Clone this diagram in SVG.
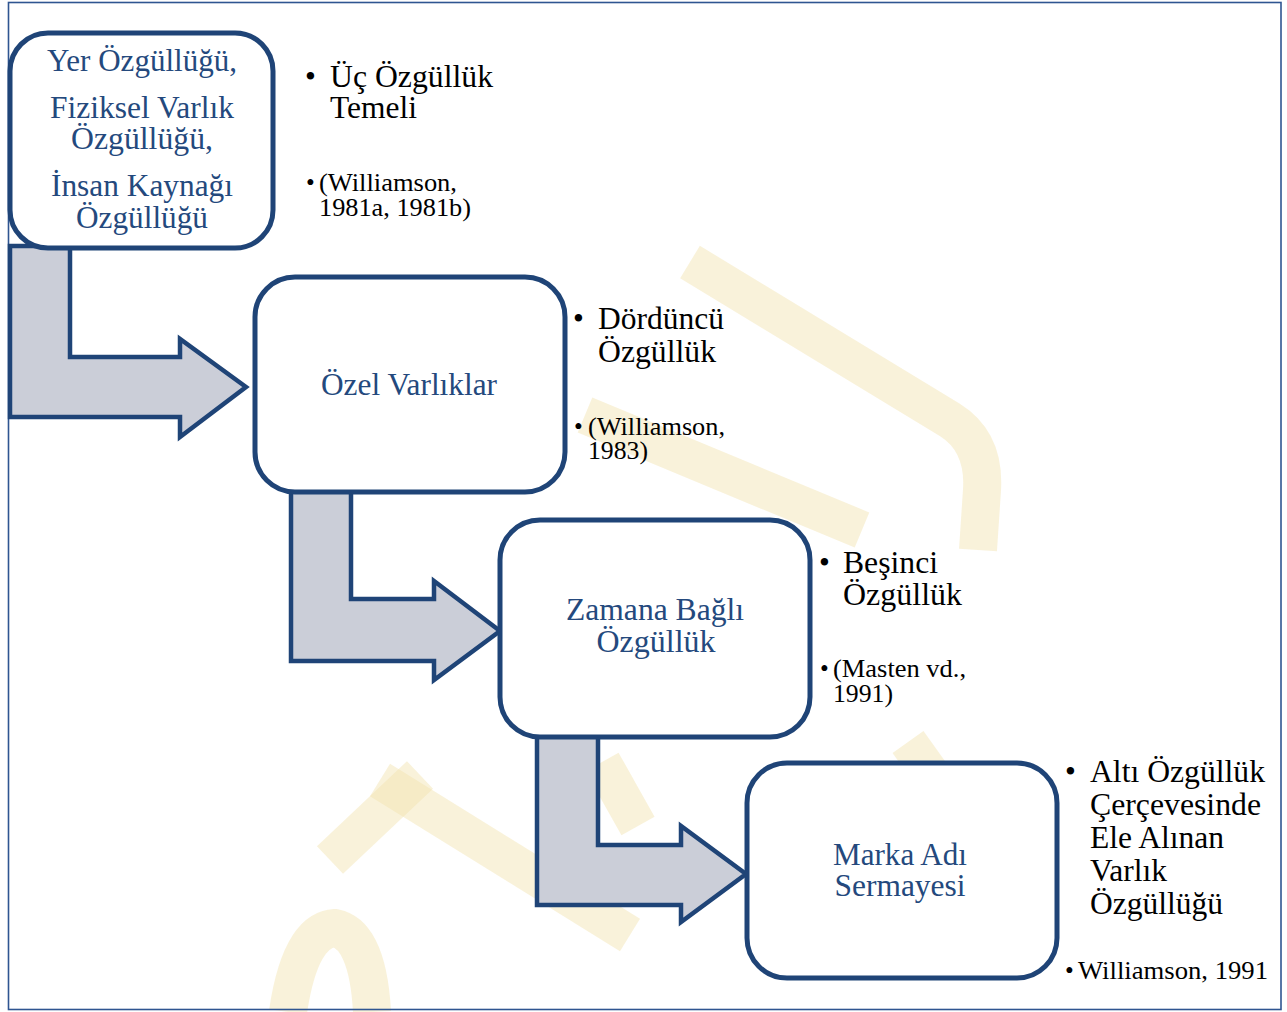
<svg xmlns="http://www.w3.org/2000/svg" width="1287" height="1012" viewBox="0 0 1287 1012">
<style>
.box{fill:#fff;stroke:#1F4477;stroke-width:5}
.arrow{fill:#CBCED8;stroke:#1F4477;stroke-width:4.5;stroke-linejoin:miter}
.bt{font-family:"Liberation Serif","Times New Roman",serif;font-size:31px;fill:#24497D;text-anchor:middle}
.rt{font-family:"Liberation Serif","Times New Roman",serif;font-size:31px;fill:#000}
.st{font-family:"Liberation Serif","Times New Roman",serif;font-size:25px;fill:#000}
.wm{fill:none;stroke:#F2E3AC;stroke-opacity:0.45;stroke-width:38;stroke-linecap:butt}
</style>
<rect x="0" y="0" width="1287" height="1012" fill="#fff"/>
<g id="watermark">
<path class="wm" d="M690 262 L950 420 Q985 442 982 490 L978 550"/>
<path class="wm" d="M585 415 L862 530"/>
<path class="wm" d="M380 780 L630 935"/>
<path class="wm" stroke-width="28" d="M330 860 L420 775"/>
<path class="wm" d="M288 1012 Q300 930 335 928 Q368 935 372 1012"/>
<path class="wm" stroke-width="26" d="M602 762 L638 826"/>
<path class="wm" stroke-width="26" d="M908 742 L948 798"/>
</g>
<rect x="8.5" y="2.5" width="1272.5" height="1007" fill="none" stroke="#2F5591" stroke-width="1.6"/>
<g id="connectors">
<path class="arrow" d="M10 246 H70 V357 H180 V339 L246 387 L180 437 V417 H10 Z"/>
<path class="arrow" d="M291 490 H351 V599 H434 V581 L500 631 L434 680 V661 H291 Z"/>
<path class="arrow" d="M537 734 H598 V845 H681 V826 L746 874 L681 922 V905 H537 Z"/>
</g>
<g id="node1">
<rect class="box" x="10" y="33" width="263" height="215" rx="38"/>
<text class="bt" x="142" y="71" textLength="190" lengthAdjust="spacingAndGlyphs">Yer Özgüllüğü,</text>
<text class="bt" x="142" y="118" textLength="184" lengthAdjust="spacingAndGlyphs">Fiziksel Varlık</text>
<text class="bt" x="142" y="149" textLength="142" lengthAdjust="spacingAndGlyphs">Özgüllüğü,</text>
<text class="bt" x="142" y="196" textLength="182" lengthAdjust="spacingAndGlyphs">İnsan Kaynağı</text>
<text class="bt" x="142" y="228" textLength="132" lengthAdjust="spacingAndGlyphs">Özgüllüğü</text>
</g>
<g id="node2">
<rect class="box" x="255" y="277" width="310" height="215" rx="40"/>
<text class="bt" x="409" y="395" textLength="176" lengthAdjust="spacingAndGlyphs">Özel Varlıklar</text>
</g>
<g id="node3">
<rect class="box" x="500" y="520" width="310" height="217" rx="40"/>
<text class="bt" x="655" y="620" textLength="178" lengthAdjust="spacingAndGlyphs">Zamana Bağlı</text>
<text class="bt" x="656" y="652" textLength="119" lengthAdjust="spacingAndGlyphs">Özgüllük</text>
</g>
<g id="node4">
<rect class="box" x="747" y="763" width="310" height="215" rx="40"/>
<text class="bt" x="900" y="865" textLength="134" lengthAdjust="spacingAndGlyphs">Marka Adı</text>
<text class="bt" x="900" y="896" textLength="131" lengthAdjust="spacingAndGlyphs">Sermayesi</text>
</g>
<g id="note1">
<text class="rt" x="305" y="87">•</text>
<text class="rt" x="330" y="87" textLength="163" lengthAdjust="spacingAndGlyphs">Üç Özgüllük</text>
<text class="rt" x="330" y="118" textLength="87" lengthAdjust="spacingAndGlyphs">Temeli</text>
<text class="st" x="306" y="191">•</text>
<text class="st" x="319" y="191" textLength="138" lengthAdjust="spacingAndGlyphs">(Williamson,</text>
<text class="st" x="319" y="216" textLength="152" lengthAdjust="spacingAndGlyphs">1981a, 1981b)</text>
</g>
<g id="note2">
<text class="rt" x="573" y="329">•</text>
<text class="rt" x="598" y="329" textLength="126" lengthAdjust="spacingAndGlyphs">Dördüncü</text>
<text class="rt" x="598" y="362" textLength="118" lengthAdjust="spacingAndGlyphs">Özgüllük</text>
<text class="st" x="574" y="435">•</text>
<text class="st" x="588" y="435" textLength="137" lengthAdjust="spacingAndGlyphs">(Williamson,</text>
<text class="st" x="588" y="459" textLength="60" lengthAdjust="spacingAndGlyphs">1983)</text>
</g>
<g id="note3">
<text class="rt" x="819" y="573">•</text>
<text class="rt" x="843" y="573" textLength="95" lengthAdjust="spacingAndGlyphs">Beşinci</text>
<text class="rt" x="843" y="605" textLength="119" lengthAdjust="spacingAndGlyphs">Özgüllük</text>
<text class="st" x="820" y="677">•</text>
<text class="st" x="833" y="677" textLength="133" lengthAdjust="spacingAndGlyphs">(Masten vd.,</text>
<text class="st" x="833" y="702" textLength="60" lengthAdjust="spacingAndGlyphs">1991)</text>
</g>
<g id="note4">
<text class="rt" x="1065" y="782">•</text>
<text class="rt" x="1090" y="782" textLength="175" lengthAdjust="spacingAndGlyphs">Altı Özgüllük</text>
<text class="rt" x="1090" y="815" textLength="171" lengthAdjust="spacingAndGlyphs">Çerçevesinde</text>
<text class="rt" x="1090" y="848" textLength="134" lengthAdjust="spacingAndGlyphs">Ele Alınan</text>
<text class="rt" x="1090" y="881" textLength="77" lengthAdjust="spacingAndGlyphs">Varlık</text>
<text class="rt" x="1090" y="914" textLength="133" lengthAdjust="spacingAndGlyphs">Özgüllüğü</text>
<text class="st" x="1065" y="979">•</text>
<text class="st" x="1078" y="979" textLength="190" lengthAdjust="spacingAndGlyphs">Williamson, 1991</text>
</g>
</svg>
